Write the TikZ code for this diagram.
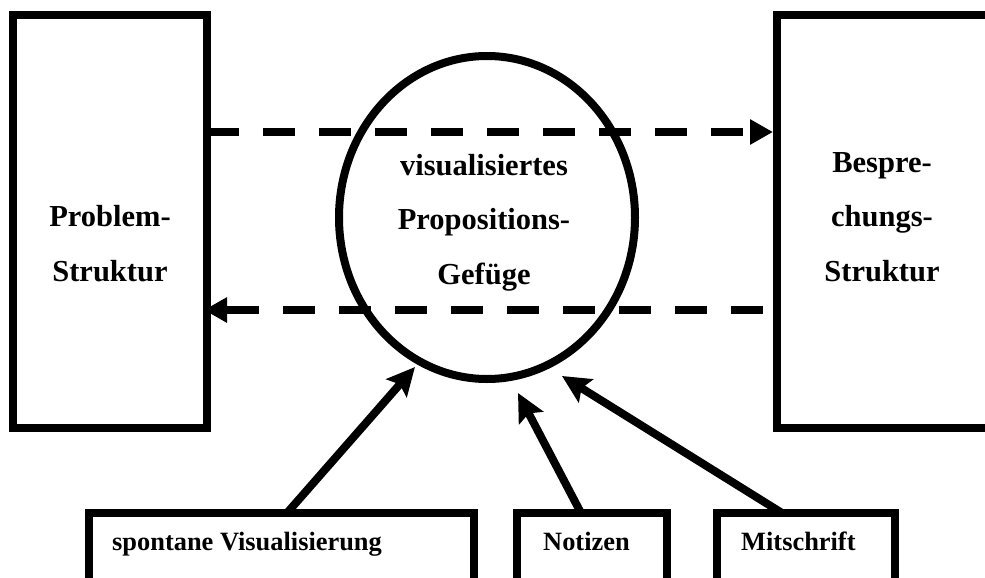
\documentclass[tikz,border=0pt]{standalone}
\usepackage{fontspec}
\setmainfont{Liberation Serif}
\usetikzlibrary{arrows.meta,shapes.geometric}
\begin{document}
\begin{tikzpicture}[x=1pt,y=-1pt,
  frame/.style={draw,line width=8pt,rectangle,inner sep=0pt,outer sep=0pt},
  bigtext/.style={font=\fontsize{30.5}{54.5}\selectfont\bfseries,align=center,inner sep=0pt,anchor=base},
  boxtext/.style={font=\fontsize{26.4}{30}\selectfont\bfseries,inner sep=0pt,anchor=base west},
  flow/.style={line width=8pt,dash pattern=on 32pt off 24pt,-{Triangle[length=23pt,width=24pt]}},
  feed/.style={line width=8pt,-{Stealth[length=28pt,width=27pt,inset=5pt]}}]
\useasboundingbox (0,0) rectangle (985,578);
\clip (0,0) rectangle (985,578);

% the two structures and the proposition network between them
\node[frame,minimum width=194pt,minimum height=413pt] (L) at (110,221.5) {};
\node[frame,minimum width=215pt,minimum height=413pt] (R) at (884.5,221.5) {};
\node[draw,ellipse,line width=8pt,inner sep=0pt,outer sep=0pt,
      minimum width=296pt,minimum height=323pt] (E) at (487,217.5) {};

% multi-line labels, placed by the baseline of their last line
\node[bigtext] (Ltxt) at (110,281) {Problem-\\Struktur};
\node[bigtext] (Etxt) at (484,284) {visualisiertes\\Propositions-\\Gef\"uge};
\node[bigtext] (Rtxt) at (882,281) {Bespre-\\chungs-\\Struktur};

% sources at the bottom
\node[frame,minimum width=385pt,minimum height=90pt] (S) at (281.5,558) {};
\node[frame,minimum width=150pt,minimum height=90pt] (N) at (592,558) {};
\node[frame,minimum width=178pt,minimum height=90pt] (M) at (806,558) {};
\node[boxtext] (Stxt) at (112,550) {spontane Visualisierung};
\node[boxtext] (Ntxt) at (543,550) {Notizen};
\node[boxtext] (Mtxt) at (741,550) {Mitschrift};

% dashed flows between the structures
\coordinate (ytop) at (0,132);
\coordinate (ybot) at (0,310);
\draw[flow,shorten >=4pt] (L.east |- ytop) -- (R.west |- ytop);
\draw[flow,shorten <=14pt,shorten >=-3pt] (R.west |- ybot) -- (L.east |- ybot);

% inputs into the network
\coordinate (t1) at (415,367);
\coordinate (t2) at (518,393);
\coordinate (t3) at (562,376);
\draw[feed] ([xshift=5.5pt]S.north) -- (t1);
\draw[feed] ([xshift=-11pt]N.north) -- (t2);
\draw[feed] ([xshift=-24pt]M.north) -- (t3);
\end{tikzpicture}
\end{document}
